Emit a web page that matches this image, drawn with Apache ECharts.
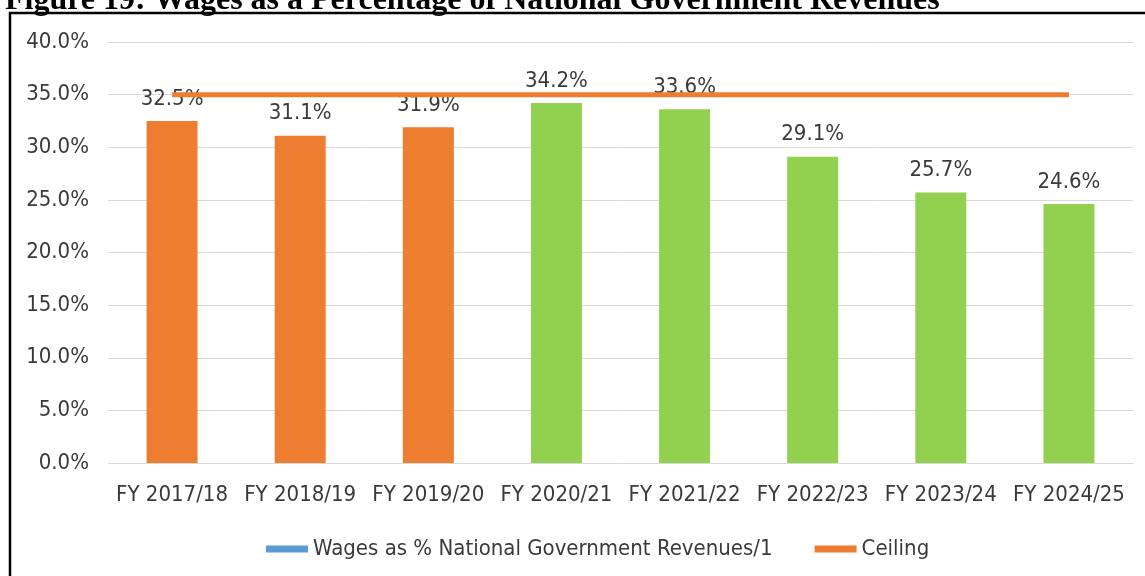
<!DOCTYPE html>
<html lang="en">
<head>
    <meta charset="UTF-8">
    <title>Wages as a Percentage of National Government Revenues</title>
    <script src="https://cdn.jsdelivr.net/npm/echarts@6/dist/echarts.min.js"></script>
    <style>
        html, body { margin: 0; padding: 0; background: #fff; }
    </style>
</head>
<body>
<div id="my" style="width: 1145px;height: 576px;"></div>
<script>
    // data
    var years = ['FY 2017/18', 'FY 2018/19', 'FY 2019/20', 'FY 2020/21', 'FY 2021/22', 'FY 2022/23', 'FY 2023/24', 'FY 2024/25']
    var wages = [32.5, 31.1, 31.9, 34.2, 33.6, 29.1, 25.7, 24.6]
    var ceiling = [35, 35, 35, 35, 35, 35, 35, 35]
    var actualYears = 3 // first three bars are actuals (orange), rest are projections (green)

    var orange = '#ED7D31'
    var green = '#92D050'
    var textCol = '#3a3a3a'
    var font = '"DejaVu Sans Condensed", "DejaVu Sans", sans-serif'

    var barData = wages.map(function (v, i) {
        return { value: v, itemStyle: { color: i < actualYears ? orange : green } }
    })

    var mCharts = echarts.init(document.getElementById('my'))
    var option = {
        animation: false,
        backgroundColor: '#fff',
        textStyle: { fontFamily: font },
        graphic: [
            {
                type: 'text',
                left: 5,
                top: -15,
                style: {
                    text: 'Figure 19: Wages as a Percentage of National Government Revenues',
                    font: 'bold 32px "Liberation Serif", "Times New Roman", serif',
                    fill: '#000'
                }
            },
            {
                type: 'rect',
                shape: { x: 10, y: 13, width: 1200, height: 700 },
                style: { fill: 'none', stroke: '#000', lineWidth: 2.5 }
            }
        ],
        grid: { left: 108, right: 12, top: 42, bottom: 113 },
        legend: {
            left: 261,
            top: 533,
            itemWidth: 42,
            itemHeight: 7,
            itemGap: 42,
            textStyle: { fontFamily: font, fontSize: 22, color: textCol },
            data: [
                { name: 'Wages as % National Government Revenues/1', icon: 'rect' },
                { name: 'Ceiling', icon: 'rect', itemStyle: { color: orange } }
            ]
        },
        xAxis: {
            type: 'category',
            data: years,
            axisTick: { show: false },
            axisLine: { lineStyle: { color: '#d9d9d9', width: 1 } },
            axisLabel: { color: textCol, fontSize: 22, fontFamily: font, margin: 21, interval: 0 }
        },
        yAxis: {
            type: 'value',
            min: 0,
            max: 40,
            interval: 5,
            axisLabel: {
                color: textCol, fontSize: 22, fontFamily: font, margin: 19,
                formatter: function (v) { return v.toFixed(1) + '%' }
            },
            splitLine: { lineStyle: { color: '#d9d9d9', width: 1 } },
            axisLine: { show: false },
            axisTick: { show: false }
        },
        series: [
            {
                name: 'Wages as % National Government Revenues/1',
                type: 'bar',
                data: barData,
                barWidth: 51,
                itemStyle: { color: '#5B9BD5' },
                label: {
                    show: true,
                    position: 'top',
                    distance: 11,
                    color: textCol,
                    fontSize: 22,
                    fontFamily: font,
                    formatter: function (p) { return p.value.toFixed(1) + '%' }
                }
            },
            {
                name: 'Ceiling',
                type: 'line',
                data: ceiling,
                symbol: 'none',
                z: 5,
                itemStyle: { color: orange },
                lineStyle: { color: orange, width: 5 }
            }
        ]
    }
    mCharts.setOption(option)
</script>
</body>
</html>
